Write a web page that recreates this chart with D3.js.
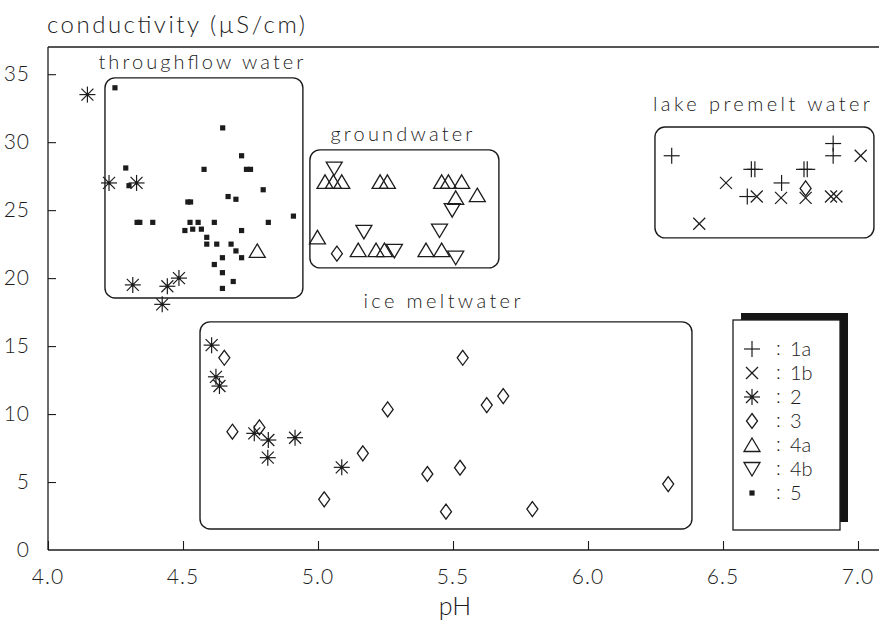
<!DOCTYPE html>
<html>
<head>
<meta charset="utf-8">
<script src="https://cdn.jsdelivr.net/npm/d3@7"></script>
<style>
  html, body { margin: 0; padding: 0; background: #fff; }
  svg { display: block; }
  text { font-family: Lato, "Liberation Sans", Arial, sans-serif; font-weight: 300; fill: #1c1c1c; }
</style>
</head>
<body>
<svg id="chart" width="879" height="633"></svg>
<script>
// Water sample groups: [pH, conductivity µS/cm]
const sample1a = [[6.31, 29.0], [6.605, 28.0], [6.618, 28.0], [6.59, 26.0], [6.717, 27.0],
  [6.80, 28.0], [6.812, 28.0], [6.908, 29.9], [6.908, 29.0]];
const sample1b = [[6.412, 24.0], [6.511, 27.0], [6.625, 26.0], [6.715, 25.9], [6.806, 25.9],
  [6.90, 26.0], [6.92, 26.0], [7.01, 29.0]];
const sample2 = [[4.146, 33.5], [4.226, 27.0], [4.328, 27.0], [4.314, 19.5], [4.442, 19.4],
  [4.485, 20.0], [4.423, 18.07], [4.606, 15.07], [4.622, 12.74], [4.635, 12.06],
  [4.764, 8.58], [4.816, 8.09], [4.814, 6.79], [4.915, 8.26], [5.088, 6.08]];
const sample3 = [[4.653, 14.14], [4.683, 8.70], [4.783, 9.02], [5.023, 3.73], [5.166, 7.11],
  [5.258, 10.34], [5.405, 5.59], [5.474, 2.82], [5.526, 6.05], [5.536, 14.14],
  [5.625, 10.66], [5.686, 11.32], [5.794, 3.01], [6.297, 4.85], [5.07, 21.8], [6.806, 26.6]];
const sample4a = [[4.775, 22.0], [5.026, 27.08], [5.057, 27.08], [5.088, 27.08], [5.23, 27.08],
  [5.257, 27.08], [5.458, 27.08], [5.483, 27.08], [5.532, 27.08], [5.51, 25.9],
  [5.59, 26.1], [4.998, 23.0], [5.149, 22.06], [5.215, 22.06], [5.246, 22.06],
  [5.40, 22.06], [5.458, 22.06]];
const sample4b = [[5.06, 28.06], [5.497, 25.0], [5.17, 23.4], [5.45, 23.5], [5.283, 22.0],
  [5.51, 21.5]];
const sample5 = [[4.248, 34.0], [4.647, 31.05], [4.717, 29.0], [4.578, 28.0], [4.735, 28.0],
  [4.75, 28.0], [4.288, 28.1], [4.30, 26.8], [4.797, 26.5], [4.667, 26.0], [4.696, 25.8],
  [4.518, 25.6], [4.528, 25.6], [4.909, 24.56], [4.33, 24.1], [4.34, 24.1], [4.388, 24.1],
  [4.526, 24.1], [4.556, 24.1], [4.616, 24.1], [4.816, 24.1], [4.507, 23.5], [4.536, 23.6],
  [4.568, 23.6], [4.717, 23.5], [4.588, 23.0], [4.588, 22.5], [4.625, 22.5], [4.678, 22.5],
  [4.696, 22.0], [4.646, 21.5], [4.717, 21.5], [4.616, 21.0], [4.646, 20.4], [4.686, 19.75],
  [4.646, 19.24]];

const seriesKeys = ["1a", "1b", "2", "3", "4a", "4b", "5"];
const seriesData = [sample1a, sample1b, sample2, sample3, sample4a, sample4b, sample5];

const xTicks = [4.0, 4.5, 5.0, 5.5, 6.0, 6.5, 7.0];
const yTicks = [0, 5, 10, 15, 20, 25, 30, 35];

// Named water types, each enclosed in a rounded frame (extent in pH / µS/cm)
const groupNames = ["throughflow water", "groundwater", "lake premelt water", "ice meltwater"];
const groupExtents = [
  [4.211, 4.944, 18.54, 34.73],
  [4.970, 5.670, 20.75, 29.43],
  [6.248, 7.059, 22.96, 31.11],
  [4.563, 6.385, 1.55, 16.78]
];

const svg = d3.select("#chart");
const ink = "#1c1c1c";

const x = d3.scaleLinear().domain([4.0, 7.0]).range([48, 858]);
const y = d3.scaleLinear().domain([0, 37]).range([550, 47]);
const xRightEdge = 879;

// Frame: left axis, bottom axis, top rule
const frame = svg.append("g").attr("stroke", ink).attr("stroke-width", 1.3).attr("fill", "none");
frame.append("line").attr("x1", x(4)).attr("x2", x(4)).attr("y1", y(37)).attr("y2", y(0));
frame.append("line").attr("x1", x(4)).attr("x2", xRightEdge).attr("y1", y(0)).attr("y2", y(0));
frame.append("line").attr("x1", x(4)).attr("x2", xRightEdge).attr("y1", y(37)).attr("y2", y(37));

// Axes with inward ticks
const xAxis = d3.axisTop(x).tickValues(xTicks).tickSize(9).tickFormat("");
svg.append("g").attr("transform", `translate(0,${y(0)})`).call(xAxis)
  .call(g => { g.select(".domain").remove(); g.selectAll("line").attr("stroke", ink).attr("stroke-width", 1.1); });
const yAxis = d3.axisRight(y).tickValues(yTicks.filter(v => v > 0)).tickSize(8).tickFormat("");
svg.append("g").attr("transform", `translate(${x(4)},0)`).call(yAxis)
  .call(g => { g.select(".domain").remove(); g.selectAll("line").attr("stroke", ink).attr("stroke-width", 1.1); });

// Tick labels
svg.append("g").selectAll("text").data(xTicks).join("text")
  .attr("x", d => x(d)).attr("y", 584)
  .attr("text-anchor", "middle").attr("font-size", 21).attr("letter-spacing", 1)
  .text(d => d.toFixed(1));
svg.append("g").selectAll("text").data(yTicks).join("text")
  .attr("x", 30).attr("y", d => y(d) + 7)
  .attr("text-anchor", "end").attr("font-size", 21).attr("letter-spacing", 1)
  .text(d => d);

// Axis titles
svg.append("text").attr("x", 47).attr("y", 33).attr("font-size", 24)
  .attr("textLength", 258).attr("lengthAdjust", "spacing")
  .text("conductivity (µS/cm)");
svg.append("text").attr("x", 455).attr("y", 615).attr("font-size", 25)
  .attr("text-anchor", "middle").text("pH");

// Group frames and their names
const labelOffsets = [9, 9, 16, 14];
const labelWidths = [205, 142, 217, 157];
groupExtents.forEach((e, i) => {
  const [x0, x1, y0, y1] = e;
  svg.append("rect")
    .attr("x", x(x0)).attr("y", y(y1))
    .attr("width", x(x1) - x(x0)).attr("height", y(y0) - y(y1))
    .attr("rx", 10).attr("ry", 10)
    .attr("fill", "none").attr("stroke", ink).attr("stroke-width", 1.4);
  const cx = (x(x0) + x(x1)) / 2 - (i === 3 ? 4 : 3);
  svg.append("text")
    .attr("x", cx - labelWidths[i] / 2).attr("y", y(y1) - labelOffsets[i])
    .attr("font-size", 20)
    .attr("textLength", labelWidths[i]).attr("lengthAdjust", "spacing")
    .text(groupNames[i]);
});

// Marker shapes
function drawSymbol(g, key) {
  const line = (x1, y1, x2, y2) => g.append("line").attr("x1", x1).attr("y1", y1).attr("x2", x2).attr("y2", y2)
    .attr("stroke", ink).attr("stroke-width", 1.2);
  switch (key) {
    case "1a":
      line(-8, 0, 8, 0); line(0, -8, 0, 8); break;
    case "1b":
      line(-6, -6, 6, 6); line(-6, 6, 6, -6); break;
    case "2":
      line(-8, 0, 8, 0); line(0, -8, 0, 8); line(-6, -6, 6, 6); line(-6, 6, 6, -6);
      g.append("circle").attr("r", 1.8).attr("fill", ink); break;
    case "3":
      g.append("path").attr("d", "M0,-7.5L5.5,0L0,7.5L-5.5,0Z")
        .attr("fill", "none").attr("stroke", ink).attr("stroke-width", 1.3); break;
    case "4a":
      g.append("path").attr("d", "M0,-7L8,6.5L-8,6.5Z")
        .attr("fill", "none").attr("stroke", ink).attr("stroke-width", 1.3); break;
    case "4b":
      g.append("path").attr("d", "M0,7L8,-6.5L-8,-6.5Z")
        .attr("fill", "none").attr("stroke", ink).attr("stroke-width", 1.3); break;
    case "5":
      g.append("rect").attr("x", -2.6).attr("y", -2.6).attr("width", 5.2).attr("height", 5.2)
        .attr("fill", ink); break;
  }
}

const marks = svg.append("g");
seriesData.forEach((pts, i) => {
  const key = seriesKeys[i];
  marks.append("g").selectAll("g").data(pts).join("g")
    .attr("transform", d => `translate(${x(d[0])},${y(d[1])})`)
    .each(function () { drawSymbol(d3.select(this), key); });
});

// Legend with drop shadow
const legend = svg.append("g");
legend.append("rect").attr("x", 741).attr("y", 313).attr("width", 107).attr("height", 209).attr("fill", "#151515");
legend.append("rect").attr("x", 733).attr("y", 320).attr("width", 107).attr("height", 210)
  .attr("fill", "#fff").attr("stroke", ink).attr("stroke-width", 1.3);
seriesKeys.forEach((k, i) => {
  const ry = 349 + i * 24;
  const g = legend.append("g").attr("transform", `translate(752,${ry})`);
  drawSymbol(g, k);
  legend.append("text").attr("x", 776).attr("y", ry + 6).attr("font-size", 20).text(":");
  legend.append("text").attr("x", 790).attr("y", ry + 7).attr("font-size", 20).text(k);
});
</script>
</body>
</html>
